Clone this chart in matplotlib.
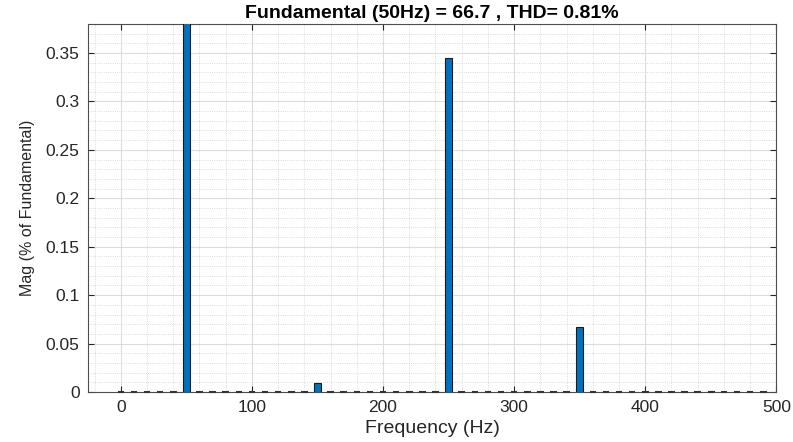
import matplotlib
matplotlib.use('Agg')
import matplotlib.pyplot as plt
from matplotlib.ticker import MultipleLocator

plt.rcParams['font.family'] = ['Liberation Sans', 'DejaVu Sans']

# FFT spectrum, 10 Hz bins, magnitude in % of fundamental
freqs = list(range(0, 500, 10))
mags = [0, 0, 0, 0, 0, 100, 0, 0, 0, 0,
        0, 0, 0, 0, 0, 0.0096, 0, 0, 0, 0,
        0, 0, 0, 0, 0, 0.345, 0, 0, 0, 0,
        0, 0, 0, 0, 0, 0.067, 0, 0, 0, 0,
        0, 0, 0, 0, 0, 0.0012, 0, 0, 0, 0]
title = 'Fundamental (50Hz) = 66.7 , THD= 0.81%'

fig = plt.figure(figsize=(7.93, 4.42), dpi=100)
ax = fig.add_axes([0.111, 0.113, 0.868, 0.833])

ax.bar(freqs, mags, width=5, color='#0072BD', edgecolor='#1a1a1a',
       linewidth=0.8, zorder=3)
# zero-height bins show up as short dashes along the baseline
zero_f = [f for f, m in zip(freqs, mags) if m < 0.002]
ax.hlines([0] * len(zero_f), [f - 2.5 for f in zero_f], [f + 2.5 for f in zero_f],
          colors='#333333', linewidth=1.5, zorder=4, clip_on=False)

ax.set_xlim(-25, 500)
ax.set_ylim(0, 0.38)
ax.xaxis.set_major_locator(MultipleLocator(100))
ax.xaxis.set_minor_locator(MultipleLocator(20))
ax.yaxis.set_minor_locator(MultipleLocator(0.01))
ax.set_yticks([0, 0.05, 0.1, 0.15, 0.2, 0.25, 0.3, 0.35])
ax.set_yticklabels(['0', '0.05', '0.1', '0.15', '0.2', '0.25', '0.3', '0.35'])

ax.grid(which='major', color='#dcdcdc', linewidth=0.8, zorder=0)
ax.grid(which='minor', color='#cfcfcf', linewidth=0.6, linestyle=':', zorder=0)
ax.set_axisbelow(True)

ax.tick_params(which='major', direction='in', length=4, top=True, right=True,
               labelsize=12.5, colors='#262626', width=0.8, pad=6)
ax.tick_params(which='minor', length=0)
for s in ax.spines.values():
    s.set_color('#4d4d4d')
    s.set_linewidth(0.8)

ax.set_xlabel('Frequency (Hz)', fontsize=14, color='#262626', labelpad=3)
ax.set_ylabel('Mag (% of Fundamental)', fontsize=11.5, color='#262626', labelpad=8)
ax.set_title(title, fontsize=14, fontweight='bold', pad=4)

fig.savefig('out.png', dpi=100)
